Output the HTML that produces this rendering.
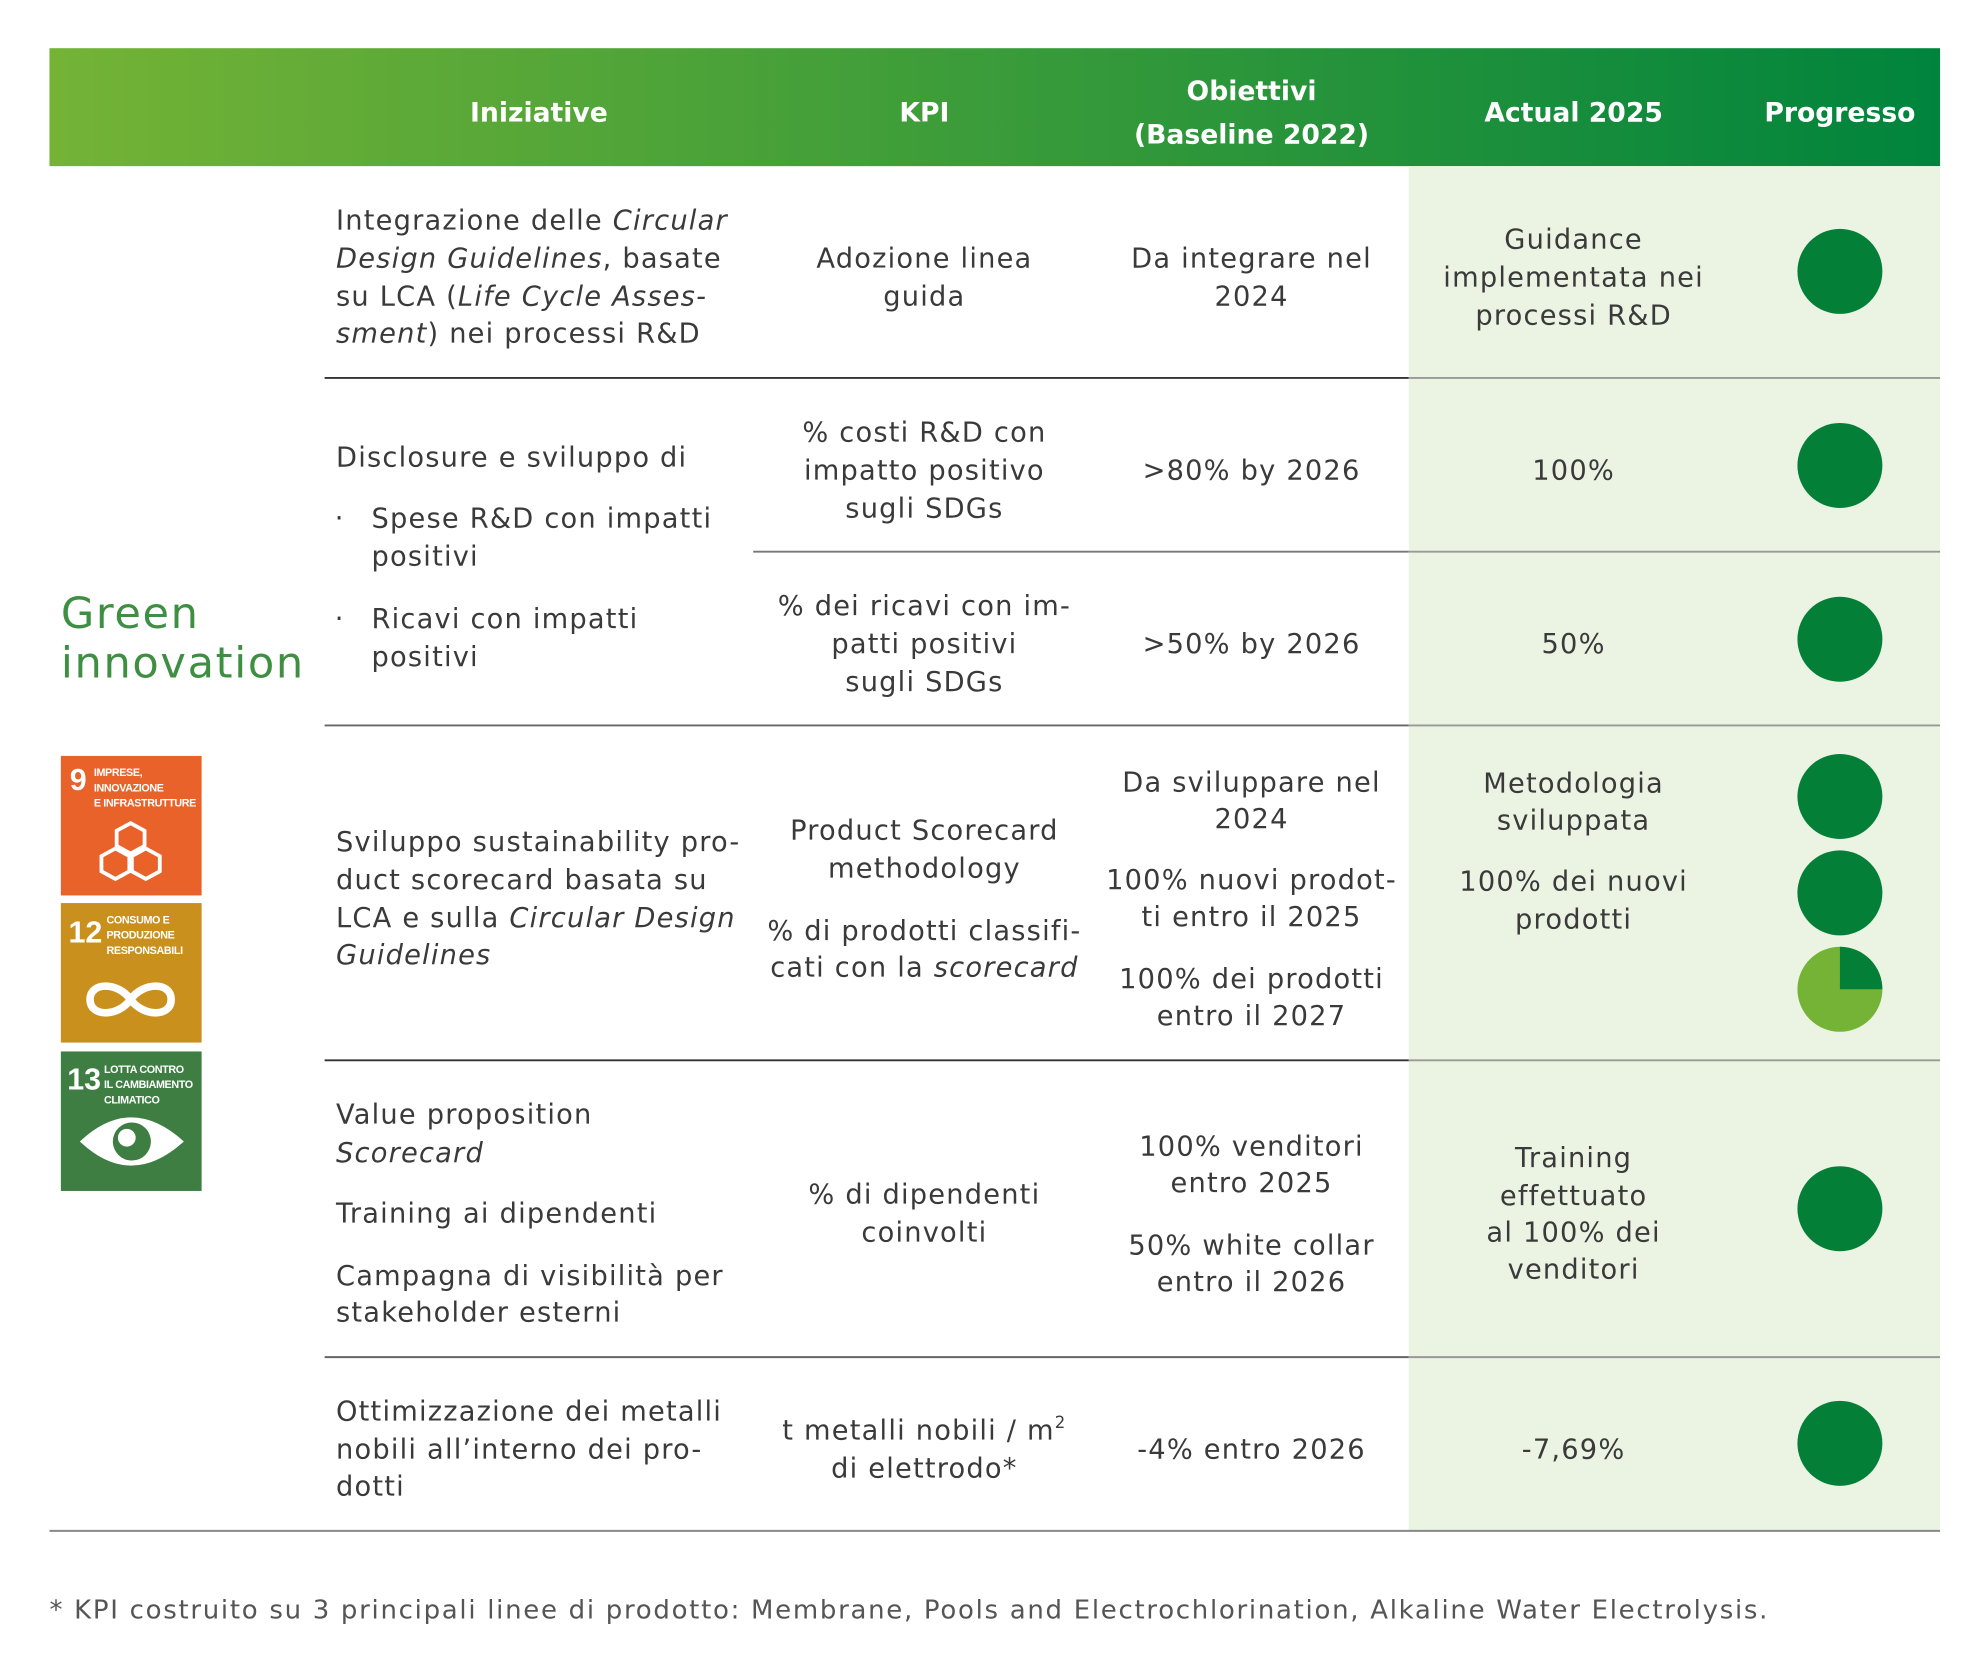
<!DOCTYPE html>
<html><head><meta charset="utf-8"><style>
html,body{margin:0;padding:0;background:#fff}
svg{display:block}
text{font-family:"DejaVu Sans","Liberation Sans",sans-serif}
.b{font-size:21.5px;fill:#3a3a3a;letter-spacing:0.95px}
.h{font-size:21px;fill:#fff;font-weight:bold}
.c{text-anchor:middle}
.s{font-family:"Liberation Sans",sans-serif;font-size:8.5px;font-weight:bold;fill:#fff;letter-spacing:-0.3px}
.n{font-family:"Liberation Sans",sans-serif;font-size:24px;font-weight:bold;fill:#fff}
</style></head><body>
<svg width="1987" height="1678" viewBox="0 0 1567 1323" preserveAspectRatio="none" xmlns="http://www.w3.org/2000/svg">
<defs><linearGradient id="g" x1="0" x2="1" y1="0" y2="0"><stop offset="0" stop-color="#74b336"/><stop offset="1" stop-color="#00843d"/></linearGradient></defs>
<rect x="39" y="38" width="1491" height="93" fill="url(#g)"/>
<text class="h c" x="425" y="96">Iniziative</text>
<text class="h c" x="729" y="96">KPI</text>
<text class="h c" x="987" y="79">Obiettivi</text>
<text class="h c" x="987" y="113">(Baseline 2022)</text>
<text class="h c" x="1241" y="96">Actual 2025</text>
<text class="h c" x="1451" y="96">Progresso</text>
<rect x="1111" y="131" width="419" height="1076" fill="#ebf3e3"/>
<g stroke-width="1.5">
<line x1="256" y1="298" x2="1111" y2="298" stroke="#333"/><line x1="1111" y1="298" x2="1530" y2="298" stroke="#999"/>
<line x1="594" y1="435" x2="1111" y2="435" stroke="#777"/><line x1="1111" y1="435" x2="1530" y2="435" stroke="#999"/>
<line x1="256" y1="572" x2="1111" y2="572" stroke="#666"/><line x1="1111" y1="572" x2="1530" y2="572" stroke="#999"/>
<line x1="256" y1="836" x2="1111" y2="836" stroke="#333"/><line x1="1111" y1="836" x2="1530" y2="836" stroke="#999"/>
<line x1="256" y1="1070" x2="1111" y2="1070" stroke="#666"/><line x1="1111" y1="1070" x2="1530" y2="1070" stroke="#999"/>
<line x1="39" y1="1207" x2="1530" y2="1207" stroke="#888"/>
</g>
<text x="48" y="495" font-size="34" fill="#3e8f41" letter-spacing="1.3">Green</text>
<text x="48" y="534" font-size="34" fill="#3e8f41" letter-spacing="1.3">innovation</text>
<rect x="48" y="596" width="111" height="110" fill="#e8622a"/>
<text class="n" x="55" y="623">9</text><text class="s" x="74" y="612">IMPRESE,</text><text class="s" x="74" y="624">INNOVAZIONE</text><text class="s" x="74" y="636">E INFRASTRUTTURE</text>
<g fill="none" stroke="#fff" stroke-width="3"><path d="M92 655 l11 -6 11 6 v12 l-11 6 -11 -6z M80 675 l11 -6 11 6 v12 l-11 6 -11 -6z M104 675 l11 -6 11 6 v12 l-11 6 -11 -6z"/></g>
<rect x="48" y="712" width="111" height="110" fill="#c9901e"/>
<text class="n" x="54" y="743">12</text><text class="s" x="84" y="728">CONSUMO E</text><text class="s" x="84" y="740">PRODUZIONE</text><text class="s" x="84" y="752">RESPONSABILI</text>
<path d="M103 788 c-10 -14 -32 -14 -32 0 c0 14 22 14 32 0 c10 -14 32 -14 32 0 c0 14 -22 14 -32 0" fill="none" stroke="#fff" stroke-width="6"/>
<rect x="48" y="829" width="111" height="110" fill="#3f7e43"/>
<text class="n" x="53" y="859">13</text><text class="s" x="82" y="846">LOTTA CONTRO</text><text class="s" x="82" y="858">IL CAMBIAMENTO</text><text class="s" x="82" y="870">CLIMATICO</text>
<path d="M63 900 q40 -38 82 0 q-42 38 -82 0z" fill="#fff"/><circle cx="104" cy="900" r="15" fill="#3f7e43"/><circle cx="100" cy="897" r="7" fill="#fff"/>
<g class="b">
<text x="265" y="181">Integrazione delle <tspan font-style="italic">Circular</tspan></text>
<text x="265" y="211"><tspan font-style="italic">Design Guidelines</tspan>, basate</text>
<text x="265" y="241">su LCA (<tspan font-style="italic">Life Cycle Asses-</tspan></text>
<text x="265" y="270"><tspan font-style="italic">sment</tspan>) nei processi R&amp;D</text>
<text class="c" x="729" y="211">Adozione linea</text><text class="c" x="729" y="241">guida</text>
<text class="c" x="987" y="211">Da integrare nel</text><text class="c" x="987" y="241">2024</text>
<text class="c" x="1241" y="196">Guidance</text><text class="c" x="1241" y="226">implementata nei</text><text class="c" x="1241" y="256">processi R&amp;D</text>

<text x="265" y="368">Disclosure e sviluppo di</text>
<text x="264" y="416">·</text><text x="293" y="416">Spese R&amp;D con impatti</text><text x="293" y="446">positivi</text>
<text x="264" y="495">·</text><text x="293" y="495">Ricavi con impatti</text><text x="293" y="525">positivi</text>
<text class="c" x="729" y="348">% costi R&amp;D con</text><text class="c" x="729" y="378">impatto positivo</text><text class="c" x="729" y="408">sugli SDGs</text>
<text class="c" x="987" y="378">&gt;80% by 2026</text><text class="c" x="1241" y="378">100%</text>
<text class="c" x="729" y="485">% dei ricavi con im-</text><text class="c" x="729" y="515">patti positivi</text><text class="c" x="729" y="545">sugli SDGs</text>
<text class="c" x="987" y="515">&gt;50% by 2026</text><text class="c" x="1241" y="515">50%</text>

<text x="265" y="671">Sviluppo sustainability pro-</text>
<text x="265" y="701">duct scorecard basata su</text>
<text x="265" y="731">LCA e sulla <tspan font-style="italic">Circular Design</tspan></text>
<text x="265" y="760" font-style="italic">Guidelines</text>
<text class="c" x="729" y="662">Product Scorecard</text><text class="c" x="729" y="692">methodology</text>
<text class="c" x="729" y="741">% di prodotti classifi-</text><text class="c" x="729" y="770">cati con la <tspan font-style="italic">scorecard</tspan></text>
<text class="c" x="987" y="624">Da sviluppare nel</text><text class="c" x="987" y="653">2024</text>
<text class="c" x="987" y="701">100% nuovi prodot-</text><text class="c" x="987" y="730">ti entro il 2025</text>
<text class="c" x="987" y="779">100% dei prodotti</text><text class="c" x="987" y="808">entro il 2027</text>
<text class="c" x="1241" y="625">Metodologia</text><text class="c" x="1241" y="654">sviluppata</text>
<text class="c" x="1241" y="702">100% dei nuovi</text><text class="c" x="1241" y="732">prodotti</text>

<text x="265" y="886">Value proposition</text><text x="265" y="916" font-style="italic">Scorecard</text>
<text x="265" y="964">Training ai dipendenti</text>
<text x="265" y="1013">Campagna di visibilità per</text><text x="265" y="1042">stakeholder esterni</text>
<text class="c" x="729" y="949">% di dipendenti</text><text class="c" x="729" y="979">coinvolti</text>
<text class="c" x="987" y="911">100% venditori</text><text class="c" x="987" y="940">entro 2025</text>
<text class="c" x="987" y="989">50% white collar</text><text class="c" x="987" y="1018">entro il 2026</text>
<text class="c" x="1241" y="920">Training</text><text class="c" x="1241" y="950">effettuato</text><text class="c" x="1241" y="979">al 100% dei</text><text class="c" x="1241" y="1008">venditori</text>

<text x="265" y="1120">Ottimizzazione dei metalli</text><text x="265" y="1150">nobili all’interno dei pro-</text><text x="265" y="1179">dotti</text>
<text class="c" x="729" y="1135">t metalli nobili / m<tspan font-size="13" dy="-9">2</tspan></text><text class="c" x="729" y="1165">di elettrodo*</text>
<text class="c" x="987" y="1150">-4% entro 2026</text><text class="c" x="1241" y="1150">-7,69%</text>
</g>
<g fill="#037f38">
<circle cx="1451" cy="214" r="33.5"/><circle cx="1451" cy="367" r="33.5"/><circle cx="1451" cy="504" r="33.5"/>
<circle cx="1451" cy="628" r="33.5"/><circle cx="1451" cy="704" r="33.5"/>
<circle cx="1451" cy="780" r="33.5" fill="#74b336"/><path d="M1451 780 V746.5 A33.5 33.5 0 0 1 1484.5 780 Z"/>
<circle cx="1451" cy="953" r="33.5"/><circle cx="1451" cy="1138" r="33.5"/>
</g>
<text x="39" y="1276" font-size="20.5" fill="#555" letter-spacing="1.35">* KPI costruito su 3 principali linee di prodotto: Membrane, Pools and Electrochlorination, Alkaline Water Electrolysis.</text>
</svg>
</body></html>
